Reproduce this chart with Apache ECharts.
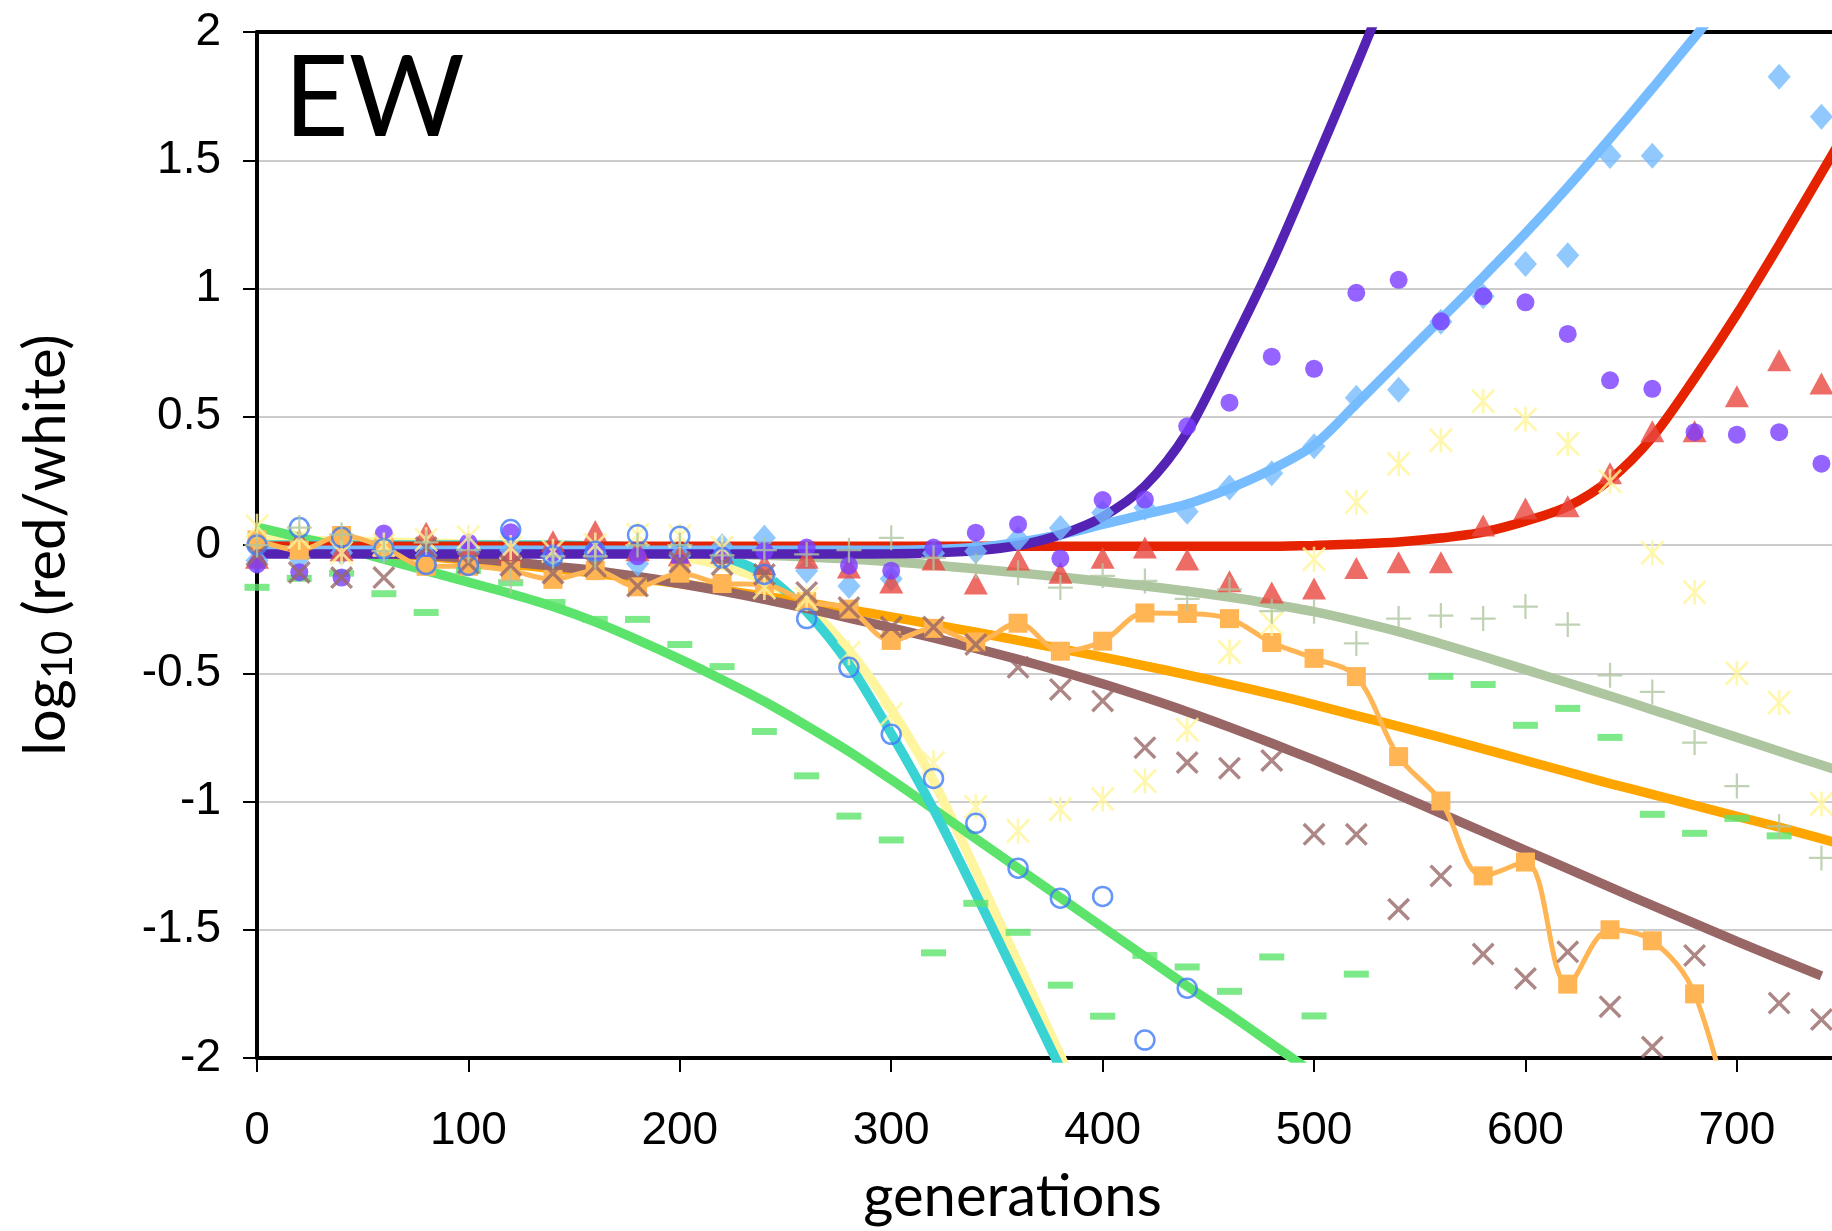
<!DOCTYPE html>
<html>
<head>
<meta charset="utf-8">
<script src="https://cdn.jsdelivr.net/npm/echarts@6/dist/echarts.min.js"></script>
<style>
html,body{margin:0;padding:0;background:#fff;}
#c{width:1832px;height:1231px;}
</style>
</head>
<body>
<div id="c"></div>
<script>
// ---- data: generations of each sample (markers) ----
const gens = [0,20,40,60,80,100,120,140,160,180,200,220,240,260,280,300,320,340,360,380,400,420,440,460,480,500,520,540,560,580,600,620,640,660,680,700,720,740];

const purpleDots = [-0.076,-0.106,-0.127,0.045,-0.05,0.01,0.05,-0.03,-0.024,-0.044,-0.07,-0.04,-0.024,
  -0.01,-0.08,-0.1,-0.01,0.048,0.08,-0.053,0.175,0.177,0.463,
  0.555,0.734,0.687,0.983,1.034,0.872,0.97,0.946,0.823,0.642,0.609,0.44,0.43,0.44,0.317];
const blueDiamonds = [-0.06,-0.05,-0.03,-0.02,-0.04,-0.03,-0.02,-0.04,-0.03,-0.073,-0.04,-0.005,0.028,
  -0.1,-0.16,-0.132,-0.032,-0.024,0.023,0.066,0.126,0.145,0.13,
  0.224,0.28,0.385,0.574,0.605,0.87,0.97,1.096,1.13,1.517,1.518,null,null,1.826,1.67];
const redTriangles = [-0.05,0.02,-0.02,0.0,0.048,-0.02,-0.03,0.015,0.055,-0.02,-0.04,-0.03,-0.076,
  -0.05,-0.088,-0.146,-0.057,-0.15,-0.057,-0.108,-0.05,-0.01,-0.057,
  -0.141,-0.185,-0.17,-0.09,-0.067,-0.067,0.076,0.142,0.151,0.28,0.443,0.443,0.58,0.72,0.63];
const plusMarks = [0.0,0.068,0.04,-0.024,0.01,-0.02,-0.14,-0.044,-0.044,0.0,0.0,-0.04,-0.02,
  -0.037,-0.02,0.028,-0.05,-0.082,-0.108,-0.166,-0.12,-0.14,-0.21,
  -0.173,-0.258,-0.258,-0.384,-0.287,-0.275,-0.287,-0.24,-0.31,-0.508,-0.573,-0.77,-0.94,-1.097,-1.22];
const brownCrosses = [-0.04,-0.107,-0.127,-0.127,-0.01,-0.07,-0.08,-0.11,-0.083,-0.16,-0.067,-0.076,-0.115,
  -0.185,-0.244,-0.32,-0.32,-0.388,-0.477,-0.563,-0.608,-0.79,-0.848,
  -0.87,-0.84,-1.128,-1.128,-1.42,-1.29,-1.595,-1.69,-1.586,-1.8,-1.957,-1.6,null,-1.786,-1.85];
const orangeSquares = [0.02,-0.02,0.037,-0.01,-0.083,-0.083,-0.1,-0.134,-0.1,-0.163,-0.11,-0.15,-0.154,
  -0.22,-0.25,-0.372,-0.325,-0.378,-0.305,-0.414,-0.375,-0.265,-0.267,
  -0.287,-0.38,-0.442,-0.513,-0.825,-0.998,-1.29,-1.236,-1.712,-1.5,-1.543,-1.75,-2.35,null,null];
const yellowStars = [0.073,0.03,-0.03,0.0,0.02,0.03,-0.01,-0.024,0.0,0.04,0.035,-0.01,-0.166,
  -0.21,-0.42,-0.66,-0.85,-1.02,-1.115,-1.03,-0.99,-0.92,-0.72,
  -0.417,-0.306,-0.056,0.167,0.317,0.408,0.56,0.49,0.395,0.249,-0.03,-0.184,-0.5,-0.614,-1.01];
const blueRings = [0.0,0.068,0.03,-0.014,-0.076,-0.08,0.06,-0.044,-0.024,0.04,0.034,-0.05,-0.115,
  -0.287,-0.477,-0.738,-0.91,-1.085,-1.26,-1.377,-1.37,-1.93,-1.728,
  null,null,null,null,null,null,null,null,null,null,null,null,null,null,null];
const greenDashes = [-0.165,-0.13,-0.11,-0.19,-0.263,-0.1,-0.147,-0.224,-0.29,-0.29,-0.388,-0.474,-0.727,
  -0.9,-1.057,-1.15,-1.59,-1.397,-1.51,-1.716,-1.837,-1.6,-1.645,
  -1.74,-1.606,-1.836,-1.673,null,-0.512,-0.544,-0.703,-0.637,-0.75,-1.05,-1.124,-1.066,-1.134,null];

// ---- fitted curves ----
const fitGens = [0,20,40,60,80,100,120,140,160,180,200,220,240,260,280,300,320,340,360,380,400,420,440,460,480,500,520,540,560,580,600,620,640,660,680,700,720,740,760];

const purpleFit = [-0.035,-0.035,-0.035,-0.035,-0.035,-0.035,-0.035,-0.035,-0.035,-0.035,-0.035,-0.035,-0.035,-0.035,
  -0.035,-0.034,-0.031,-0.022,-0.002,0.04,0.11,0.23,0.44,0.76,1.1,1.48,1.87,2.27,
  null,null,null,null,null,null,null,null,null,null,null];
const blueFit = [-0.02,-0.02,-0.02,-0.02,-0.02,-0.02,-0.02,-0.02,-0.02,-0.02,-0.02,-0.02,-0.02,-0.02,-0.02,-0.02,
  -0.018,-0.01,0.01,0.04,0.08,0.12,0.16,0.22,0.295,0.39,0.55,0.715,0.88,1.045,1.215,1.395,1.585,1.78,1.98,2.18,
  null,null,null];
const redFit = [-0.005,-0.005,-0.005,-0.005,-0.005,-0.005,-0.005,-0.005,-0.005,-0.005,-0.005,-0.005,-0.005,
  -0.005,-0.005,-0.005,-0.005,-0.005,-0.005,-0.005,-0.005,-0.005,-0.005,-0.005,-0.005,
  -0.002,0.004,0.012,0.027,0.05,0.093,0.15,0.255,0.42,0.65,0.9,1.17,1.45,1.73];
const grayFit = [-0.005,-0.006,-0.008,-0.009,-0.01,-0.012,-0.015,-0.018,-0.022,-0.026,-0.03,-0.035,-0.04,
  -0.047,-0.055,-0.065,-0.078,-0.093,-0.108,-0.125,-0.142,-0.16,-0.18,-0.203,-0.23,-0.26,
  -0.297,-0.338,-0.385,-0.435,-0.486,-0.537,-0.589,-0.642,-0.696,-0.75,-0.804,-0.858,-0.912];
const brownFit = [-0.01,-0.015,-0.022,-0.03,-0.04,-0.052,-0.066,-0.082,-0.1,-0.123,-0.15,-0.18,-0.212,
  -0.247,-0.285,-0.323,-0.362,-0.403,-0.446,-0.492,-0.541,-0.594,-0.65,-0.71,-0.773,-0.838,
  -0.905,-0.975,-1.046,-1.118,-1.19,-1.262,-1.334,-1.405,-1.475,-1.545,-1.613,-1.68,null];
const orangeFit = [-0.02,-0.021,-0.025,-0.034,-0.045,-0.059,-0.075,-0.092,-0.11,-0.13,-0.15,-0.175,-0.2,
  -0.225,-0.252,-0.28,-0.31,-0.34,-0.372,-0.404,-0.437,-0.471,-0.506,-0.543,-0.581,-0.622,
  -0.665,-0.707,-0.75,-0.795,-0.84,-0.885,-0.93,-0.972,-1.015,-1.058,-1.1,-1.145,-1.19];
const greenFit = [0.07,0.03,-0.01,-0.055,-0.1,-0.145,-0.19,-0.24,-0.3,-0.37,-0.445,-0.525,-0.61,
  -0.705,-0.805,-0.915,-1.03,-1.145,-1.26,-1.375,-1.49,-1.605,-1.72,-1.83,-1.945,-2.06,-2.17,
  null,null,null,null,null,null,null,null,null,null,null,null];
const cyanFit = [0.0,0.0,0.0,0.0,0.0,0.0,0.0,0.0,-0.003,-0.008,-0.018,-0.045,-0.115,
  -0.26,-0.465,-0.735,-1.03,-1.36,-1.7,-2.04,-2.38,
  null,null,null,null,null,null,null,null,null,null,null,null,null,null,null,null,null,null];
const yellowFit = [0.02,0.018,0.015,0.012,0.008,0.004,0.0,-0.006,-0.014,-0.025,-0.045,-0.08,-0.14,
  -0.24,-0.41,-0.64,-0.92,-1.27,-1.63,-1.99,-2.35,
  null,null,null,null,null,null,null,null,null,null,null,null,null,null,null,null,null,null];

const xTickValues = [0,100,200,300,400,500,600,700];

// ---- build ----
function pts(xs, ys){
  const out = [];
  xs.forEach((x,i)=>{ if (ys[i] !== null && ys[i] !== undefined) out.push([x, ys[i]]); });
  return out;
}
const SYM_X = 'path://M0,2.1 L2.1,0 L10,7.9 L17.9,0 L20,2.1 L12.1,10 L20,17.9 L17.9,20 L10,12.1 L2.1,20 L0,17.9 L7.9,10 Z';
const SYM_PLUS = 'path://M9.1,0 L10.9,0 L10.9,9.1 L20,9.1 L20,10.9 L10.9,10.9 L10.9,20 L9.1,20 L9.1,10.9 L0,10.9 L0,9.1 L9.1,9.1 Z';
const SYM_STAR = 'path://M8.9,0 L11.1,0 L11.1,20 L8.9,20 Z M1.6,0 L20,18.4 L18.4,20 L0,1.6 Z M18.4,0 L20,1.6 L1.6,20 L0,18.4 Z';
const SYM_DASH = 'path://M0,0 L20,0 L20,5 L0,5 Z';

function fit(ys, color, z){
  return {type:'line', data: pts(fitGens, ys), smooth:0.3, showSymbol:false, symbol:'none',
    lineStyle:{color:color, width:9.5}, itemStyle:{color:color}, z:z, silent:true, clip:true};
}
function marks(ys, symbol, size, color, z, extra){
  return Object.assign({type:'scatter', data: pts(gens, ys), symbol:symbol, symbolSize:size,
    itemStyle:{color:color}, z:z, silent:true, clip:true}, extra||{});
}

const chart = echarts.init(document.getElementById('c'), null, {renderer:'canvas'});
chart.setOption({
  animation:false,
  backgroundColor:'#ffffff',
  title:{text:'EW', left:284, top:44, padding:0,
    textStyle:{fontFamily:'Lato', fontSize:112, fontWeight:'normal', color:'#000'}},
  grid:{left:257, right:0, top:32, bottom:172},
  xAxis:[{
    type:'value', min:0, max:745, interval:100,
    axisLine:{show:true, onZero:false, lineStyle:{color:'#000', width:4}},
    axisTick:{show:true, length:14, customValues:xTickValues, lineStyle:{color:'#000', width:2}},
    axisLabel:{margin:50, fontSize:46, fontFamily:'Liberation Sans', color:'#000', customValues:xTickValues,
      formatter:(v)=> (v % 100 === 0 ? String(v) : '')},
    splitLine:{show:false},
    name:'generations', nameLocation:'middle', nameGap:110,
    nameTextStyle:{fontFamily:'Lato', fontSize:58, color:'#000', padding:[0,64,0,0]}
  },{
    type:'value', position:'top', min:0, max:745,
    axisLine:{show:true, onZero:false, lineStyle:{color:'#000', width:4}},
    axisTick:{show:false}, axisLabel:{show:false}, splitLine:{show:false}
  }],
  yAxis:{
    type:'value', min:-2, max:2, interval:0.5,
    axisLine:{show:true, onZero:false, lineStyle:{color:'#000', width:4}},
    axisTick:{show:true, length:14, lineStyle:{color:'#000', width:2}},
    axisLabel:{margin:36, fontSize:46, fontFamily:'Liberation Sans', color:'#000'},
    splitLine:{show:true, lineStyle:{color:'#cccccc', width:2}},
    name:'{a|log}{b|10}{a| (red/white)}', nameLocation:'middle', nameGap:178, nameRotate:90,
    nameTextStyle:{fontFamily:'Lato', fontSize:58, color:'#000',
      rich:{a:{fontFamily:'Lato', fontSize:58, color:'#000', lineHeight:66},
            b:{fontFamily:'Lato', fontSize:42, color:'#000', verticalAlign:'bottom', lineHeight:30}}}
  },
  series:[
    fit(yellowFit,'#FFF59E',2),
    fit(greenFit,'#5CE36C',2),
    fit(cyanFit,'#3AD3D3',2),
    fit(grayFit,'#AEC6A0',2),
    fit(orangeFit,'#FFA500',2),
    fit(brownFit,'#996666',2),
    fit(redFit,'#E52300',2),
    fit(blueFit,'#76BCFF',2),
    fit(purpleFit,'#5523B4',2),
    marks(greenDashes, SYM_DASH, [25,7], '#5CE36C', 3),
    marks(blueDiamonds, 'diamond', [23,26], '#76BCFF', 3),
    marks(redTriangles, 'triangle', [24,22], '#E8473F', 3),
    marks(purpleDots, 'circle', 18, '#7B3CFF', 3),
    {type:'line', data: pts(gens, orangeSquares), smooth:0.35, symbol:'rect', symbolSize:19,
      showSymbol:true, showAllSymbol:true, lineStyle:{color:'#FFB554', width:5},
      itemStyle:{color:'#FFB554'}, z:3, silent:true, clip:true},
    marks(yellowStars, SYM_STAR, [24,25], '#FFF59A', 3),
    marks(brownCrosses, SYM_X, [23,23], '#996868', 3),
    marks(blueRings, 'circle', 19, 'rgba(0,0,0,0)', 3,
      {itemStyle:{color:'rgba(0,0,0,0)', borderColor:'#3F7CF8', borderWidth:2.5}}),
    marks(plusMarks, SYM_PLUS, [25,25], '#AFC7A0', 3)
  ]
});
</script>
</body>
</html>
